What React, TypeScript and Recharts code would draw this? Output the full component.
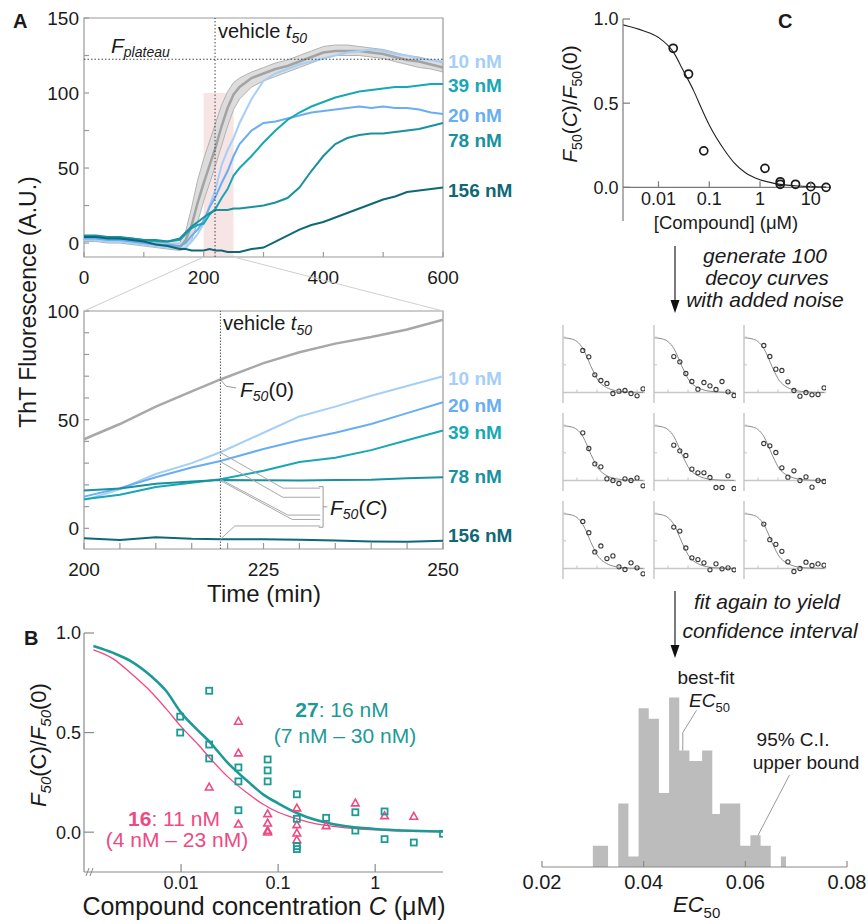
import React from 'react';
import {
  ComposedChart,
  Line,
  Area,
  Scatter,
  XAxis,
  YAxis,
  ReferenceLine,
  ReferenceArea,
  ReferenceDot,
} from 'recharts';

const FONT = "'Liberation Sans', Arial, Helvetica, sans-serif";
const INK = '#1a1a1a';
const FRAME = '#9a9a9a';
const AXB = '#8a8a8a';
const TEAL = '#1c9a96';
const PINK = '#ee4a82';

// ---------- Panel A: full time course (min) / ThT fluorescence (A.U.)
const fullTimes = [0, 20, 40, 60, 80, 100, 120, 140, 160, 170, 180, 190, 200, 210, 220, 230, 240, 250, 260, 280, 300, 320, 340, 360, 380, 400, 420, 440, 460, 480, 500, 520, 540, 560, 580, 600];
const vehicleLow = [1, 1, 0, 0, -1, -2, -3, -4, -5, -4, 2, 14, 28, 40, 52, 65, 78, 89, 96, 104, 108, 111, 114, 117, 120, 123, 125, 125, 125, 124, 123, 121, 119, 117, 116, 114];
const vehicleMid = [3, 3, 2, 2, 1, 0, -1, -2, -3, 2, 12, 27, 40, 52, 64, 78, 90, 99, 104, 110, 113, 116, 118, 121, 124, 127, 128, 128, 128, 127, 126, 124, 122, 121, 119, 117];
const vehicleHigh = [5, 5, 4, 4, 3, 2, 1, 0, 0, 8, 24, 42, 56, 68, 80, 92, 101, 107, 110, 114, 117, 120, 122, 125, 128, 131, 132, 132, 131, 130, 129, 127, 125, 124, 122, 120];
const nM10 = [2, 2, 1, 1, 0, -1, -2, -3, -4, -3, 1, 6, 13, 25, 36, 52, 62, 70, 80, 96, 108, 113, 116, 119, 121, 123, 125, 127, 128, 129, 128, 126, 125, 123, 122, 121];
const nM20 = [3, 3, 2, 2, 1, 0, -1, -1, -2, 0, 5, 9, 15, 24, 31, 40, 48, 58, 66, 75, 80, 81, 83, 85, 87, 88, 89, 90, 91, 90, 91, 90, 90, 89, 87, 86];
const nM39 = [4, 4, 4, 3, 3, 2, 1, 1, 2, 6, 10, 12, 13, 19, 23, 30, 36, 45, 50, 58, 67, 75, 82, 87, 91, 94, 97, 99, 101, 102, 103, 104, 104, 105, 106, 106];
const nM78 = [5, 5, 4, 4, 3, 2, 2, 1, 3, 7, 11, 14, 17, 20, 22, 22, 22, 23, 23, 24, 25, 27, 30, 37, 48, 58, 66, 70, 72, 73, 73, 74, 75, 76, 78, 80];
const nM156 = [4, 4, 3, 3, 2, 1, -1, -2, -4, -4, -5, -5, -5, -4, -5, -5, -6, -6, -6, -4, -3, 1, 5, 9, 12, 14, 17, 20, 23, 26, 29, 31, 34, 35, 36, 37];

// ---------- Panel A: zoom 200-250 min
const zoomTimes = [200, 205, 210, 215, 219, 225, 230, 235, 240, 245, 250];
const vehicleZoom = [41, 48, 56, 63, 68.5, 76, 81, 85, 88, 91.5, 96];
const zoom10 = [13, 18, 25, 30, 35, 44, 51.5, 56, 61, 65.5, 70];
const zoom20 = [14.6, 18.5, 23.5, 28, 31, 36.5, 40.5, 44, 48, 53, 58];
const zoom39 = [13.4, 15.5, 19, 21, 22.6, 26.5, 30.5, 32.5, 36, 40.5, 45];
const zoom78 = [17.4, 18.3, 20.5, 21.5, 22.3, 22.1, 22, 22.2, 22.4, 23, 23.5];
const zoom156 = [-4.6, -5.4, -4.1, -4.8, -5, -5, -5.2, -5.6, -6, -6.2, -5.7];

const doses = ['10 nM', '20 nM', '39 nM', '78 nM', '156 nM'];
const doseColors = ['#a6cff6', '#69aef3', '#17a7b5', '#1a919e', '#0f6877'];
const fullByDose = [nM10, nM20, nM39, nM78, nM156];
const zoomByDose = [zoom10, zoom20, zoom39, zoom78, zoom156];
const tagFull = [121, 85.3, 105.3, 68.7, 35.3];
const tagZoom = [69.2, 56.7, 44.2, 23.8, -3.1];
const vehicleT50 = 219;
const fPlateau = 122.5;

// leader lines in the zoom panel (time, fluorescence)
const f0Leader = [{ t: 219, v: 68.4 }, { t: 219.8, v: 65.4 }, { t: 221.2, v: 64.6 }];
const fcLeaders = [
  [{ t: 219, v: 34.9 }, { t: 227.7, v: 18.5 }, { t: 232.9, v: 18.5 }],
  [{ t: 219, v: 30.7 }, { t: 227.7, v: 14.3 }, { t: 232.9, v: 14.3 }],
  [{ t: 219, v: 22.6 }, { t: 228.4, v: 6.1 }, { t: 232.9, v: 6.1 }],
  [{ t: 219, v: 22.0 }, { t: 229.0, v: 4.1 }, { t: 232.9, v: 4.1 }],
  [{ t: 219, v: -5.0 }, { t: 221.0, v: 1.1 }, { t: 232.9, v: 1.1 }],
];
const fcBracket = [{ t: 232.7, v: 19.2 }, { t: 233.3, v: 19.2 }, { t: 233.3, v: 0.5 }, { t: 232.7, v: 0.5 }];
const fcBracketTip = [{ t: 233.3, v: 9.9 }, { t: 233.9, v: 9.9 }];

// ---------- Panel B
const fitConc = [0.00125, 0.002, 0.003, 0.005, 0.007, 0.01, 0.015, 0.02, 0.03, 0.05, 0.07, 0.1, 0.15, 0.2, 0.3, 0.5, 0.7, 1, 2, 5];
const fit27 = [0.935, 0.9, 0.86, 0.78, 0.71, 0.6, 0.51, 0.45, 0.35, 0.25, 0.19, 0.145, 0.1, 0.075, 0.05, 0.03, 0.022, 0.016, 0.008, 0.003];
const fit16 = [0.915, 0.87, 0.8, 0.7, 0.62, 0.53, 0.44, 0.37, 0.28, 0.19, 0.14, 0.1, 0.07, 0.052, 0.035, 0.022, 0.016, 0.011, 0.005, 0.002];
const sqConc = [0.0098, 0.0098, 0.0195, 0.0195, 0.0195, 0.039, 0.039, 0.039, 0.078, 0.078, 0.078, 0.156, 0.156, 0.156, 0.156, 0.3125, 0.625, 0.625, 1.25, 1.25, 2.5, 5];
const sqVal = [0.58, 0.5, 0.71, 0.44, 0.37, 0.325, 0.255, 0.11, 0.365, 0.31, 0.255, 0.19, 0.067, -0.07, -0.085, 0.072, 0.1, 0.008, 0.104, -0.035, -0.052, -0.008];
const triConc = [0.0195, 0.039, 0.039, 0.039, 0.078, 0.078, 0.078, 0.078, 0.156, 0.156, 0.156, 0.156, 0.3125, 0.625, 1.25, 2.5];
const triVal = [0.226, 0.556, 0.397, 0.04, 0.092, 0.045, 0.008, 0.0, 0.121, 0.037, -0.005, -0.039, 0.032, 0.146, 0.082, 0.079];

// ---------- Panel C, top fit
const cFitConc = [0.002, 0.005, 0.01, 0.02, 0.03, 0.05, 0.07, 0.1, 0.2, 0.3, 0.5, 1, 2, 5, 10, 20];
const cFitVal = [0.965, 0.93, 0.89, 0.8, 0.7, 0.57, 0.47, 0.37, 0.22, 0.15, 0.09, 0.045, 0.022, 0.009, 0.004, 0.002];
const cConc = [0.0195, 0.039, 0.078, 1.25, 2.5, 2.5, 5, 10, 20];
const cVal = [0.826, 0.673, 0.217, 0.113, 0.033, 0.018, 0.018, 0.004, 0.0];

// ---------- Panel C, decoy curves
const decoyConc = [0.0195, 0.039, 0.078, 0.156, 0.3125, 0.625, 1.25, 2.5, 5, 10, 20];
const decoyFit = [0.99, 0.97, 0.92, 0.79, 0.66, 0.47, 0.36, 0.25, 0.13, 0.09, 0.055, 0.028, 0.014, 0.005, 0.003, 0.001];
const decoy1 = [0.76, 0.645, 0.32, 0.217, 0.163, -0.018, 0.024, 0.036, -0.018, -0.06, 0.066];
const decoy2 = [0.65, 0.554, 0.343, 0.199, 0.06, 0.181, 0.12, 0.054, 0.199, 0.012, -0.054];
const decoy3 = [0.849, 0.651, 0.422, 0.398, 0.193, 0.036, -0.066, 0.0, -0.042, -0.036, 0.084];
const decoy4 = [0.861, 0.578, 0.301, 0.247, 0.03, 0.0, -0.054, 0.03, 0.0, 0.048, -0.096];
const decoy5 = [0.639, 0.536, 0.452, 0.205, 0.139, 0.139, 0.054, -0.127, -0.127, 0.084, -0.145];
const decoy6 = [0.669, 0.627, 0.506, 0.229, 0.06, 0.175, 0.0, 0.066, -0.12, 0.0, -0.018];
const decoy7 = [0.85, 0.647, 0.299, 0.407, 0.18, 0.228, 0.03, -0.018, 0.102, 0.012, -0.096];
const decoy8 = [0.749, 0.677, 0.371, 0.192, 0.162, 0.102, -0.024, 0.084, -0.006, 0.012, -0.024];
const decoy9 = [0.802, 0.521, 0.437, 0.311, 0.12, -0.054, 0.0, 0.114, 0.054, 0.084, 0.06];
const decoys = [decoy1, decoy2, decoy3, decoy4, decoy5, decoy6, decoy7, decoy8, decoy9];

// ---------- Panel C, EC50 histogram (bin edges, counts)
const histEdges = [0.03, 0.033, 0.035, 0.037, 0.039, 0.041, 0.043, 0.045, 0.047, 0.049, 0.0515, 0.0535, 0.055, 0.057, 0.059, 0.061, 0.063, 0.065, 0.067, 0.068];
const histCounts = [2, 0, 6, 1, 15, 14, 7, 16, 11, 10, 11, 5, 6, 6, 2, 3, 2, 0, 1, 0];
const bestFitLeader = [{ x: 0.0504, n: 14.8 }, { x: 0.0477, n: 12.7 }, { x: 0.0477, n: 11 }];
const upperLeader = [{ x: 0.0687, n: 8.7 }, { x: 0.0625, n: 3 }];

// ---------- derived tables
const topRows = fullTimes.map((t, i) => {
  const r: any = { t, band: [vehicleLow[i], vehicleHigh[i]], mid: vehicleMid[i] };
  fullByDose.forEach((arr, k) => (r['d' + k] = arr[i]));
  return r;
});
const zoomRows = zoomTimes.map((t, i) => {
  const r: any = { t, veh: vehicleZoom[i] };
  zoomByDose.forEach((arr, k) => (r['d' + k] = arr[i]));
  return r;
});
const pairs = (xs: number[], ys: number[]) => xs.map((c, i) => ({ c, y: ys[i] }));
const histRows = histEdges.map((x, i) => ({ x, n: histCounts[i] }));

// ---------- ticks (inward tick marks, labels outside)
type TickOpts = {
  side: 'left' | 'bottom';
  len: number;
  gap: number;
  fs: number;
  labels?: number[];
  fmt?: (v: number) => string;
  lift?: number;
  stroke?: string;
  sw?: number;
};
const makeTick = (o: TickOpts) => (props: any) => {
  const { x, y, payload } = props;
  const v = payload.value;
  const show = o.labels ? o.labels.indexOf(v) >= 0 : true;
  const label = o.fmt ? o.fmt(v) : String(v);
  const stroke = o.stroke || FRAME;
  if (o.side === 'left') {
    return (
      <g>
        <line x1={x} y1={y} x2={x + o.len} y2={y} stroke={stroke} strokeWidth={o.sw || 1.2} />
        {show && (
          <text x={x - o.gap} y={y + o.fs * 0.36} textAnchor="end" fontSize={o.fs} fontFamily={FONT} fill={INK}>
            {label}
          </text>
        )}
      </g>
    );
  }
  const y0 = y - (o.lift || 0);
  return (
    <g>
      <line x1={x} y1={y0} x2={x} y2={y0 - o.len} stroke={stroke} strokeWidth={o.sw || 1.2} />
      {show && (
        <text x={x} y={y0 + o.gap + o.fs * 0.72} textAnchor="middle" fontSize={o.fs} fontFamily={FONT} fill={INK}>
          {label}
        </text>
      )}
    </g>
  );
};
const oneDec = (v: number) => v.toFixed(1);

const tagLabel = (k: number) => ({
  value: doses[k],
  position: 'right' as const,
  offset: 5,
  fill: doseColors[k],
  fontSize: 19,
  fontWeight: 700,
  fontFamily: FONT,
});

const FullCourse = () => (
  <ComposedChart width={520} height={290} data={topRows} margin={{ top: 18, right: 77, bottom: 0, left: 0 }}>
    <XAxis dataKey="t" type="number" domain={[0, 600]} ticks={[0, 100, 200, 300, 400, 500, 600]} interval={0} height={33}
      axisLine={false} tickLine={false} tickSize={0} tickMargin={0}
      tick={makeTick({ side: 'bottom', len: 5, gap: 13, fs: 19, labels: [0, 200, 400, 600] })} />
    <YAxis type="number" domain={[-9.3, 150]} ticks={[0, 25, 50, 75, 100, 125, 150]} interval={0} width={84}
      axisLine={false} tickLine={false} tickSize={0} tickMargin={0}
      tick={makeTick({ side: 'left', len: 5, gap: 5, fs: 19, labels: [0, 50, 100, 150] })} />
    <ReferenceArea x1={200} x2={250} y1={-9.3} y2={100} fill="#eec3c3" fillOpacity={0.45} stroke="none" />
    <Area dataKey="band" type="linear" fill="#d9d9d9" fillOpacity={0.9} stroke="#b3b3b3" strokeWidth={1} isAnimationActive={false} />
    <Line dataKey="mid" stroke="#a3a3a3" strokeWidth={2.5} dot={false} isAnimationActive={false} />
    {doses.map((d, k) => (
      <Line key={d} dataKey={'d' + k} stroke={doseColors[k]} strokeWidth={2} dot={false} isAnimationActive={false} />
    ))}
    <ReferenceLine y={fPlateau} stroke="#333" strokeWidth={0.9} strokeDasharray="1.5 2" />
    <ReferenceLine x={vehicleT50} stroke="#333" strokeWidth={0.9} strokeDasharray="1.5 2" />
    <ReferenceArea x1={0} x2={600} y1={-9.3} y2={150} fill="none" stroke={FRAME} strokeWidth={1.2} />
    {doses.map((d, k) => (
      <ReferenceDot key={'tag' + d} x={600} y={tagFull[k]} r={0} fill="none" stroke="none" label={tagLabel(k)} />
    ))}
  </ComposedChart>
);

const ZoomCourse = () => (
  <ComposedChart width={520} height={289} data={zoomRows} margin={{ top: 18, right: 77, bottom: 0, left: 0 }}>
    <XAxis dataKey="t" type="number" domain={[200, 250]} ticks={[200, 205, 210, 215, 220, 225, 230, 235, 240, 245, 250]} interval={0} height={33}
      axisLine={false} tickLine={false} tickSize={0} tickMargin={0}
      tick={makeTick({ side: 'bottom', len: 6, gap: 13, fs: 19, labels: [200, 225, 250] })} />
    <YAxis type="number" domain={[-9.5, 100]} ticks={[0, 10, 20, 30, 40, 50, 60, 70, 80, 90, 100]} interval={0} width={84}
      axisLine={false} tickLine={false} tickSize={0} tickMargin={0}
      tick={makeTick({ side: 'left', len: 5, gap: 5, fs: 19, labels: [0, 50, 100] })} />
    <Line dataKey="veh" stroke="#a8a8a8" strokeWidth={2.5} dot={false} isAnimationActive={false} />
    {doses.map((d, k) => (
      <Line key={d} dataKey={'d' + k} stroke={doseColors[k]} strokeWidth={2} dot={false} isAnimationActive={false} />
    ))}
    <ReferenceLine x={vehicleT50} stroke="#444" strokeWidth={0.9} strokeDasharray="1.5 1.5" />
    <Line data={f0Leader} dataKey="v" stroke="#9a9a9a" strokeWidth={1} dot={false} isAnimationActive={false} />
    {fcLeaders.map((seg, i) => (
      <Line key={'fc' + i} data={seg} dataKey="v" stroke="#a8a8a8" strokeWidth={1} dot={false} isAnimationActive={false} />
    ))}
    <Line data={fcBracket} dataKey="v" stroke="#9a9a9a" strokeWidth={1} dot={false} isAnimationActive={false} />
    <Line data={fcBracketTip} dataKey="v" stroke="#9a9a9a" strokeWidth={1} dot={false} isAnimationActive={false} />
    <ReferenceArea x1={200} x2={250} y1={-9.5} y2={100} fill="none" stroke={FRAME} strokeWidth={1.2} />
    {doses.map((d, k) => (
      <ReferenceDot key={'tag' + d} x={250} y={tagZoom[k]} r={0} fill="none" stroke="none" label={tagLabel(k)} />
    ))}
  </ComposedChart>
);

const squareShape = (p: any) => (
  <rect x={p.cx - 3} y={p.cy - 3} width={6} height={6} fill="none" stroke={TEAL} strokeWidth={1.8} />
);
const triangleShape = (p: any) => (
  <polygon points={`${p.cx},${p.cy - 4} ${p.cx + 3.8},${p.cy + 2.8} ${p.cx - 3.8},${p.cy + 2.8}`} fill="none" stroke={PINK} strokeWidth={1.6} />
);
const ringShape = (r: number, color: string, sw: number) => (p: any) => (
  <circle cx={p.cx} cy={p.cy} r={r} fill="none" stroke={color} strokeWidth={sw} />
);

const DoseResponseB = () => (
  <ComposedChart width={460} height={284} margin={{ top: 15, right: 17, bottom: 0, left: 0 }}>
    <XAxis dataKey="c" type="number" scale="log" domain={[0.001, 5]} ticks={[0.01, 0.1, 1]} interval={0} height={30} allowDataOverflow
      axisLine={{ stroke: AXB, strokeWidth: 1.2 }} tickLine={false} tickSize={0} tickMargin={0}
      tick={makeTick({ side: 'bottom', len: 8, gap: 4, fs: 18, stroke: AXB })} />
    <YAxis dataKey="y" type="number" domain={[-0.2, 1]} ticks={[0, 0.5, 1]} interval={0} width={84}
      axisLine={{ stroke: AXB, strokeWidth: 1.2 }} tickLine={false} tickSize={0} tickMargin={0}
      tick={makeTick({ side: 'left', len: 10, gap: 3, fs: 18, fmt: oneDec, stroke: AXB })} />
    <Line data={pairs(fitConc, fit16)} dataKey="y" type="monotone" stroke={PINK} strokeWidth={1.3} dot={false} isAnimationActive={false} />
    <Line data={pairs(fitConc, fit27)} dataKey="y" type="monotone" stroke={TEAL} strokeWidth={2.6} dot={false} isAnimationActive={false} />
    <Scatter data={pairs(triConc, triVal)} dataKey="y" shape={triangleShape} isAnimationActive={false} />
    <Scatter data={pairs(sqConc, sqVal)} dataKey="y" shape={squareShape} isAnimationActive={false} />
  </ComposedChart>
);

const C_PLOT_H = 202;
const FitC = () => (
  <ComposedChart width={308} height={231} margin={{ top: 19, right: 37, bottom: 0, left: 0 }}>
    <XAxis dataKey="c" type="number" scale="log" domain={[0.002, 25]} ticks={[0.01, 0.1, 1, 10]} interval={0} height={10} allowDataOverflow
      axisLine={false} tickLine={false} tickSize={0} tickMargin={0}
      tick={makeTick({ side: 'bottom', len: 6, gap: 4.5, fs: 18, lift: (C_PLOT_H * 0.2) / 1.2, stroke: '#7a7a7a' })} />
    <YAxis dataKey="y" type="number" domain={[-0.2, 1]} ticks={[0, 0.5, 1]} interval={0} width={63}
      axisLine={{ stroke: '#7a7a7a', strokeWidth: 1.2 }} tickLine={false} tickSize={0} tickMargin={0}
      tick={makeTick({ side: 'left', len: 7, gap: 4.5, fs: 18, fmt: oneDec, stroke: '#7a7a7a' })} />
    <ReferenceLine y={0} stroke="#7a7a7a" strokeWidth={1.2} />
    <Line data={pairs(cFitConc, cFitVal)} dataKey="y" type="monotone" stroke="#222" strokeWidth={1.1} dot={false} isAnimationActive={false} />
    <Scatter data={pairs(cConc, cVal)} dataKey="y" shape={ringShape(4, '#1a1a1a', 1.7)} isAnimationActive={false} />
  </ComposedChart>
);

const D_PLOT_H = 78;
const DecoyCell = ({ vals }: { vals: number[] }) => (
  <ComposedChart width={88} height={86} margin={{ top: 4, right: 4, bottom: 0, left: 0 }}>
    <XAxis dataKey="c" type="number" scale="log" domain={[0.002, 25]} ticks={[0.01, 0.1, 1, 10]} interval={0} height={4} allowDataOverflow
      axisLine={false} tickLine={false} tickSize={0} tickMargin={0}
      tick={makeTick({ side: 'bottom', len: 3, gap: 0, fs: 0, labels: [], lift: (D_PLOT_H * 0.19) / 1.41, stroke: '#c4c4c4', sw: 1 })} />
    <YAxis dataKey="y" type="number" domain={[-0.19, 1.22]} ticks={[0, 0.5, 1]} interval={0} width={2}
      axisLine={{ stroke: '#c8c8c8', strokeWidth: 1.5 }} tickLine={false} tickSize={0} tickMargin={0}
      tick={makeTick({ side: 'left', len: 3, gap: 0, fs: 0, labels: [], stroke: '#c4c4c4', sw: 1 })} />
    <ReferenceLine y={0} stroke="#c8c8c8" strokeWidth={1.3} />
    <Line data={pairs(cFitConc, decoyFit)} dataKey="y" type="monotone" stroke="#8c8c8c" strokeWidth={1} dot={false} isAnimationActive={false} />
    <Scatter data={pairs(decoyConc, vals)} dataKey="y" shape={ringShape(2.1, '#3a3a3a', 1.1)} isAnimationActive={false} />
  </ComposedChart>
);

const Histogram = () => (
  <ComposedChart width={348} height={237} data={histRows} margin={{ top: 27, right: 21, bottom: 0, left: 22 }}>
    <XAxis dataKey="x" type="number" domain={[0.02, 0.08]} ticks={[0.02, 0.04, 0.06, 0.08]} interval={0} height={30}
      axisLine={{ stroke: AXB, strokeWidth: 1.2 }} tickLine={false} tickSize={0} tickMargin={0}
      tick={makeTick({ side: 'bottom', len: 6, gap: 8, fs: 20, fmt: (v) => v.toFixed(2), stroke: AXB })} />
    <YAxis hide type="number" domain={[0, 17]} />
    <Area dataKey="n" type="stepAfter" fill="#bcbcbc" fillOpacity={1} stroke="none" isAnimationActive={false} />
    <Line data={bestFitLeader} dataKey="n" stroke="#9a9a9a" strokeWidth={1} dot={false} isAnimationActive={false} />
    <Line data={upperLeader} dataKey="n" stroke="#9a9a9a" strokeWidth={1} dot={false} isAnimationActive={false} />
  </ComposedChart>
);

const gridCols = [563, 653.5, 744];
const gridRows = [325.2, 412.8, 500.5];

const Arrow = ({ x, y1, y2 }: { x: number; y1: number; y2: number }) => (
  <g>
    <line x1={x} y1={y1} x2={x} y2={y2 - 10} stroke="#222" strokeWidth={1.2} />
    <polygon points={`${x - 4.5},${y2 - 13} ${x + 4.5},${y2 - 13} ${x},${y2}`} fill="#111" />
  </g>
);

const Overlay = () => (
  <svg width={868} height={924} style={{ position: 'absolute', left: 0, top: 0, pointerEvents: 'none' }} fontFamily={FONT} fill={INK}>
    <text x={13} y={28} fontSize={20} fontWeight={700}>A</text>
    <text x={24} y={645} fontSize={20} fontWeight={700}>B</text>
    <text x={778} y={28} fontSize={20} fontWeight={700}>C</text>

    {/* panel A */}
    <text transform="translate(36,302) rotate(-90)" textAnchor="middle" fontSize={23}>ThT Fluorescence (A.U.)</text>
    <text x={264} y={602} textAnchor="middle" fontSize={24}>Time (min)</text>
    <text x={111} y={53} fontSize={21}>
      <tspan fontStyle="italic">F</tspan>
      <tspan fontStyle="italic" fontSize={14} dy={4}>plateau</tspan>
    </text>
    <text x={218} y={38} fontSize={20}>
      vehicle <tspan fontStyle="italic">t</tspan>
      <tspan fontStyle="italic" fontSize={14} dy={5}>50</tspan>
    </text>
    <text x={223} y={330} fontSize={20}>
      vehicle <tspan fontStyle="italic">t</tspan>
      <tspan fontStyle="italic" fontSize={14} dy={5}>50</tspan>
    </text>
    <text x={240} y={397} fontSize={21}>
      <tspan fontStyle="italic">F</tspan>
      <tspan fontStyle="italic" fontSize={14} dy={4}>50</tspan>
      <tspan dy={-4}>(0)</tspan>
    </text>
    <text x={330} y={515} fontSize={21}>
      <tspan fontStyle="italic">F</tspan>
      <tspan fontStyle="italic" fontSize={14} dy={4}>50</tspan>
      <tspan dy={-4}>(</tspan>
      <tspan fontStyle="italic">C</tspan>
      <tspan>)</tspan>
    </text>
    <line x1={203.7} y1={257} x2={84} y2={311} stroke="#cfcfcf" strokeWidth={1} />
    <line x1={233.6} y1={257} x2={443} y2={311} stroke="#cfcfcf" strokeWidth={1} />

    {/* panel B */}
    <text x={342} y={717} textAnchor="middle" fontSize={21} fill={TEAL}>
      <tspan fontWeight={700}>27</tspan>: 16 nM
    </text>
    <text x={345} y={743} textAnchor="middle" fontSize={21} fill={TEAL}>(7 nM – 30 nM)</text>
    <text x={174} y={826} textAnchor="middle" fontSize={21} fill={PINK}>
      <tspan fontWeight={700}>16</tspan>: 11 nM
    </text>
    <text x={177} y={847} textAnchor="middle" fontSize={21} fill={PINK}>(4 nM – 23 nM)</text>
    <text transform="translate(46,745) rotate(-90)" textAnchor="middle" fontSize={22}>
      <tspan fontStyle="italic">F</tspan>
      <tspan fontStyle="italic" fontSize={15} dy={5}>50</tspan>
      <tspan dy={-5}>(C)/</tspan>
      <tspan fontStyle="italic">F</tspan>
      <tspan fontStyle="italic" fontSize={15} dy={5}>50</tspan>
      <tspan dy={-5}>(0)</tspan>
    </text>
    <text x={264} y={915} textAnchor="middle" fontSize={25}>
      Compound concentration <tspan fontStyle="italic">C</tspan> (μM)
    </text>
    <line x1={86} y1={876} x2={89} y2={868} stroke={AXB} strokeWidth={1} />
    <line x1={90} y1={876} x2={93} y2={868} stroke={AXB} strokeWidth={1} />

    {/* panel C */}
    <text transform="translate(577,104) rotate(-90)" textAnchor="middle" fontSize={21}>
      <tspan fontStyle="italic">F</tspan>
      <tspan fontSize={14} dy={5}>50</tspan>
      <tspan dy={-5}>(</tspan>
      <tspan fontStyle="italic">C</tspan>
      <tspan>)/</tspan>
      <tspan fontStyle="italic">F</tspan>
      <tspan fontSize={14} dy={5}>50</tspan>
      <tspan dy={-5}>(0)</tspan>
    </text>
    <text x={726} y={229} textAnchor="middle" fontSize={18.5}>[Compound] (μM)</text>
    <Arrow x={675} y1={246} y2={313} />
    <text x={765} y={263} textAnchor="middle" fontSize={21} fontStyle="italic">generate 100</text>
    <text x={767} y={285} textAnchor="middle" fontSize={21} fontStyle="italic">decoy curves</text>
    <text x={765} y={307} textAnchor="middle" fontSize={21} fontStyle="italic">with added noise</text>
    <Arrow x={675} y1={591} y2={658} />
    <text x={767} y={609} textAnchor="middle" fontSize={21} fontStyle="italic">fit again to yield</text>
    <text x={770} y={638} textAnchor="middle" fontSize={21} fontStyle="italic">confidence interval</text>
    <text x={706} y={684} textAnchor="middle" fontSize={19}>best-fit</text>
    <text x={689} y={707} fontSize={19}>
      <tspan fontStyle="italic">EC</tspan>
      <tspan fontSize={13} dy={5}>50</tspan>
    </text>
    <text x={793} y={746} textAnchor="middle" fontSize={19}>95% C.I.</text>
    <text x={806} y={769} textAnchor="middle" fontSize={19}>upper bound</text>
    <text x={673} y={912} fontSize={22}>
      <tspan fontStyle="italic">EC</tspan>
      <tspan fontSize={15} dy={6}>50</tspan>
    </text>
  </svg>
);

export default function App() {
  return (
    <div style={{ position: 'absolute', left: 0, top: 0, width: 868, height: 924, background: '#fff', fontFamily: FONT, overflow: 'hidden' }}>
      <div style={{ position: 'absolute', left: 0, top: 0 }}>
        <FullCourse />
      </div>
      <div style={{ position: 'absolute', left: 0, top: 293 }}>
        <ZoomCourse />
      </div>
      <div style={{ position: 'absolute', left: 0, top: 618 }}>
        <DoseResponseB />
      </div>
      <div style={{ position: 'absolute', left: 560, top: 0 }}>
        <FitC />
      </div>
      {decoys.map((vals, i) => (
        <div key={i} style={{ position: 'absolute', left: gridCols[i % 3] - 2, top: gridRows[Math.floor(i / 3)] - 4 }}>
          <DecoyCell vals={vals} />
        </div>
      ))}
      <div style={{ position: 'absolute', left: 520, top: 660 }}>
        <Histogram />
      </div>
      <Overlay />
    </div>
  );
}
